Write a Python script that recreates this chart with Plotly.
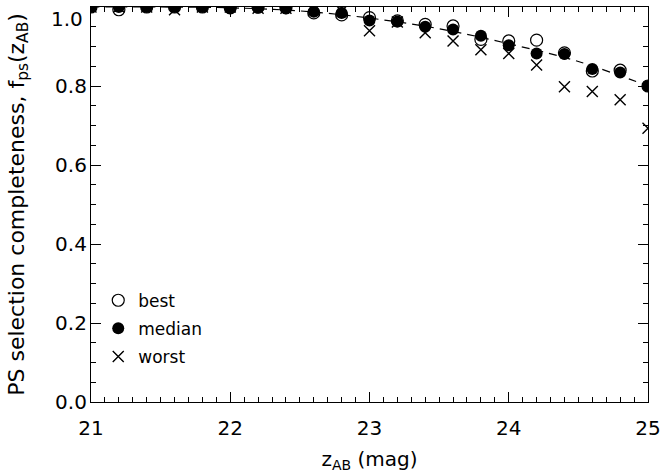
import plotly.graph_objects as go

mag = [21.0, 21.2, 21.4, 21.6, 21.8, 22.0, 22.2, 22.4, 22.6, 22.8, 23.0,
       23.2, 23.4, 23.6, 23.8, 24.0, 24.2, 24.4, 24.6, 24.8, 25.0]
best = [1.0, 0.993, 1.0, 1.0, 1.0, 0.998, 1.0, 0.998, 0.985, 0.980, 0.973,
        0.965, 0.956, 0.952, 0.918, 0.914, 0.916, 0.884, 0.838, 0.840, 0.800]
median = [1.0, 1.0, 1.0, 1.0, 1.0, 0.997, 0.998, 0.997, 0.988, 0.985, 0.966,
          0.963, 0.950, 0.943, 0.927, 0.903, 0.882, 0.881, 0.843, 0.834, 0.800]
worst = [1.0, 1.0, 1.0, 0.993, 1.0, 1.0, 0.997, 0.997, 0.993, 0.990, 0.940,
         0.962, 0.935, 0.914, 0.892, 0.882, 0.853, 0.798, 0.786, 0.765, 0.693]

fit_mag = [21.0, 21.5, 22.0, 22.5, 23.0, 23.5, 24.0, 24.5, 25.0]
fit_val = [1.0, 1.0, 0.998, 0.99, 0.972, 0.945, 0.907, 0.862, 0.800]

x_ticks = [21, 22, 23, 24, 25]
y_ticks = [0.0, 0.2, 0.4, 0.6, 0.8, 1.0]
y_ticklabels = ["0.0", "0.2", "0.4", "0.6", "0.8", "1.0"]

FONT = "DejaVu Sans"

fig = go.Figure()
fig.add_trace(go.Scatter(x=fit_mag, y=fit_val, mode="lines",
                         line=dict(color="black", width=1.2, dash="8px,6px", shape="spline"),
                         showlegend=False, hoverinfo="skip"))
fig.add_trace(go.Scatter(x=mag, y=best, mode="markers", name="best", legendgroup="b",
                         marker=dict(symbol="circle-open", size=12, color="black",
                                     line=dict(width=1.2, color="black"))))
fig.add_trace(go.Scatter(x=mag, y=median, mode="markers", name="median", legendgroup="m",
                         marker=dict(symbol="circle", size=12, color="black")))
fig.add_trace(go.Scatter(x=mag, y=worst, mode="markers", name="worst", legendgroup="w",
                         marker=dict(symbol="x-thin-open", size=11, color="black",
                                     line=dict(width=1.4, color="black"))))

axis_common = dict(showgrid=False, zeroline=False, showline=True, linecolor="black",
                   linewidth=1.2, mirror="allticks", ticks="inside", ticklen=10,
                   tickwidth=1, tickcolor="black", ticklabeloverflow="allow",
                   tickfont=dict(family=FONT, size=20, color="black"))

# the top label is drawn just inside the figure, as in the reference
ytext_axis = [t if v < 1.0 else "" for v, t in zip(y_ticks, y_ticklabels)]

fig.update_xaxes(range=[21, 25], tickvals=x_ticks, ticktext=[str(v) for v in x_ticks],
                 minor=dict(dtick=0.1, ticklen=5, ticks="inside", tickcolor="black"),
                 ticklabelstandoff=8,
                 title=dict(text="z<sub>AB</sub> (mag)", font=dict(family=FONT, size=20, color="black"),
                            standoff=14),
                 **axis_common)
fig.update_yaxes(range=[0, 1.0], tickvals=y_ticks, ticktext=ytext_axis,
                 minor=dict(dtick=0.05, ticklen=5, ticks="inside", tickcolor="black"),
                 ticklabelstandoff=-1,
                 title=dict(text="PS selection completeness, f<sub>ps</sub>(z<sub>AB</sub>)",
                            font=dict(family=FONT, size=22, color="black"), standoff=24),
                 **axis_common)

fig.add_annotation(x=0, xref="paper", y=y_ticks[-1], yref="y", text=y_ticklabels[-1],
                   showarrow=False, xanchor="right", yanchor="top", xshift=-6, yshift=2,
                   font=dict(family=FONT, size=20, color="black"))

fig.update_layout(width=664, height=473,
                  margin=dict(l=91, r=16, t=7, b=71, autoexpand=False),
                  paper_bgcolor="white", plot_bgcolor="white",
                  legend=dict(x=0.013, y=0.302, xanchor="left", yanchor="top",
                              bgcolor="rgba(0,0,0,0)", borderwidth=0,
                              font=dict(family=FONT, size=17, color="black"),
                              itemwidth=30, tracegroupgap=3),
                  showlegend=True)

fig.write_html("out.html", config={"displayModeBar": False},
               post_script="document.body.style.margin='0px';")
